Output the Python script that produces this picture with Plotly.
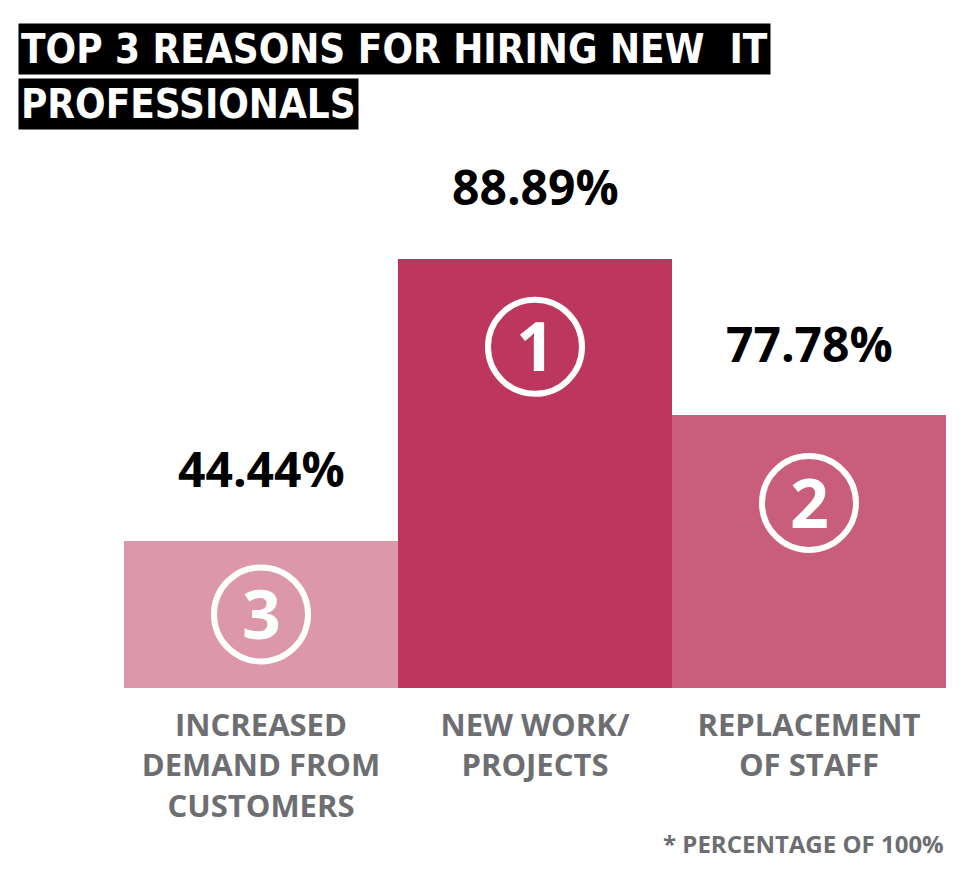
import plotly.graph_objects as go

# data (bar heights are drawn as in the picture, not to scale)
categories = ["INCREASED<br>DEMAND FROM<br>CUSTOMERS", "NEW WORK/<br>PROJECTS", "REPLACEMENT<br>OF STAFF"]
percent_labels = ["44.44%", "88.89%", "77.78%"]
bar_heights = [34.3, 100, 63.6]
ranks = ["3", "1", "2"]

bar_colors = ["#dc98aa", "#bc365e", "#c85e7c"]
grey = "#6d6e71"

# the page puts the figure 8px in from the top left corner
OFF = 8
W, H = 968 - OFF, 896 - OFF
ML, MR, MT, MB = 124 - OFF, 22, 130 - OFF, 208
Y_MAX = 130
plot_w = W - ML - MR
plot_h = H - MT - MB
px_per_unit = plot_h / Y_MAX

fig = go.Figure()

fig.add_trace(go.Bar(
    x = list(range(len(categories))),
    y = bar_heights,
    marker = dict(color = bar_colors, line = dict(width = 0)),
    hoverinfo = "skip"
))

# percent labels above the bars
for i, (h, lab) in enumerate(zip(bar_heights, percent_labels)):
    fig.add_annotation(
        x = i, y = h, text = "<b>" + lab + "</b>",
        showarrow = False, yanchor = "middle", yshift = 72,
        font = dict(family = "Open Sans", size = 48, color = "black")
    )

# circled rank numbers inside the bars
for i, (h, r) in enumerate(zip(bar_heights, ranks)):
    cy = h - min(h / 2, 88 / px_per_unit)
    fig.add_shape(
        type = "circle", xref = "x", yref = "y",
        xsizemode = "pixel", ysizemode = "pixel",
        xanchor = i, yanchor = cy,
        x0 = -47, x1 = 47, y0 = -47, y1 = 47,
        line = dict(color = "white", width = 6)
    )
    fig.add_annotation(
        x = i, y = cy, text = "<b>" + r + "</b>",
        showarrow = False, yanchor = "middle", yshift = 2,
        font = dict(family = "Open Sans", size = 68, color = "white")
    )

# title in two black boxes
title_lines = ["TOP 3 REASONS FOR HIRING NEW  IT", "PROFESSIONALS"]
for k, line in enumerate(title_lines):
    top_px = 23 - OFF + k * 55
    fig.add_annotation(
        xref = "paper", yref = "paper",
        x = (18 - OFF - ML) / plot_w, y = 1 + (MT - top_px) / plot_h,
        xanchor = "left", yanchor = "top",
        text = "<b>" + line + "</b>", showarrow = False,
        bgcolor = "black", borderpad = 2,
        font = dict(family = "DejaVu Sans Condensed, Open Sans", size = 40, color = "white")
    )

# footnote
fig.add_annotation(
    xref = "paper", yref = "paper",
    x = 1, y = -(843 - OFF - (H - MB)) / plot_h,
    xanchor = "right", yanchor = "middle",
    text = "<b>* PERCENTAGE OF 100%</b>", showarrow = False,
    font = dict(family = "Open Sans", size = 24, color = grey)
)

fig.update_xaxes(
    tickvals = list(range(len(categories))),
    ticktext = ["<b>" + c + "</b>" for c in categories],
    tickfont = dict(family = "Open Sans", size = 31, color = grey),
    ticklabelstandoff = 16,
    range = [-0.5, len(categories) - 0.5],
    showgrid = False, zeroline = False, showline = False, ticks = ""
)
fig.update_yaxes(range = [0, Y_MAX], visible = False)

fig.update_layout(
    width = W, height = H,
    margin = dict(l = ML, r = MR, t = MT, b = MB),
    bargap = 0,
    showlegend = False,
    plot_bgcolor = "white", paper_bgcolor = "white"
)

fig.write_html("out.html")
